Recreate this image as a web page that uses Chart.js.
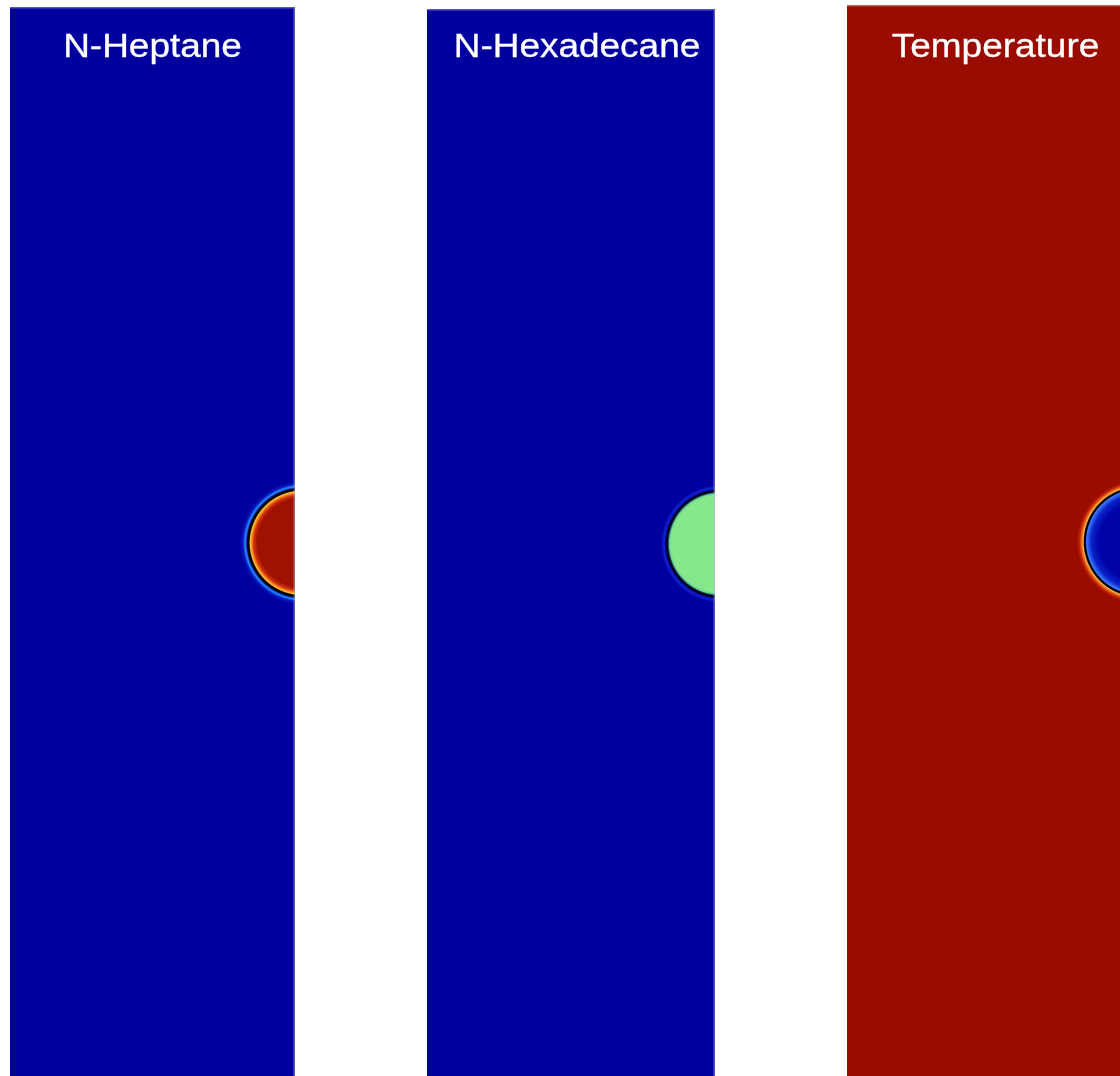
<!DOCTYPE html>
<html>
<head>
<meta charset="utf-8">
<title>Droplet fields</title>
<script src="https://cdn.jsdelivr.net/npm/chart.js@4.4.1/dist/chart.umd.min.js"></script>
<style>
  html, body { margin: 0; padding: 0; background: #ffffff; overflow: hidden; }
  body { width: 1120px; height: 1076px; position: relative; }
  canvas { position: absolute; }
</style>
</head>
<body>
<canvas id="heptane" style="left:10px; top:7px;" width="285" height="1069"></canvas>
<canvas id="hexadecane" style="left:427px; top:9px;" width="288" height="1067"></canvas>
<canvas id="temperature" style="left:847px; top:5px;" width="287" height="1071"></canvas>
<script>
// Field names shown at the top of each panel
const panelTitles = ['N-Heptane', 'N-Hexadecane', 'Temperature'];

// Droplet centre (in droplet radii, axis of symmetry at x = 0) and radius
const dropletCenterX = [0.13, 0.09, 0.09];
const dropletCenterY = [0, 0, 0];
const dropletRadius = [1.02, 1.0, 1.02];

// Computational domain shown in each panel
const domainX = [-5.45, 0];
const domainY = [-10.1, 10.15];

// Colour of the far field and of the droplet core / interface (style only)
const panelStyles = [
  {
    background: '#01009f',
    edge: 'rgba(190,190,240,0.45)',
    labelShift: 0,
    labelBaseline: 49.5,
    // [distance from interface in px, colour]
    stops: [
      [-999, '#9e1000'], [-9, '#a01200'], [-5.5, '#d03408'], [-3.4, '#ff8a1c'],
      [-2.0, '#ffc43a'], [-0.9, '#000000'], [0.9, '#000000'], [2.0, '#1050f0'],
      [3.2, '#2a88ff'], [5.0, '#0620c4'], [8.0, '#01009f']
    ]
  },
  {
    background: '#01009f',
    edge: 'rgba(190,190,240,0.45)',
    labelShift: 6,
    labelBaseline: 47.5,
    stops: [
      [-999, '#86e88a'], [-4.0, '#86e88a'], [-2.3, '#62cc9c'], [-1.1, '#14304a'],
      [-0.3, '#000010'], [0.8, '#000028'], [2.2, '#0a16c0'], [3.6, '#0e1ed2'],
      [6.0, '#01009f']
    ]
  },
  {
    background: '#9a0b00',
    edge: 'rgba(240,200,190,0.45)',
    labelShift: 5,
    labelBaseline: 51.5,
    stops: [
      [-999, '#0000a0'], [-14, '#0004a8'], [-6.5, '#0a22c8'], [-3.2, '#285cf0'],
      [-1.6, '#3c7cff'], [-0.6, '#000000'], [0.6, '#000000'], [1.7, '#f8b040'],
      [3.2, '#f07020'], [5.2, '#c02800'], [8.0, '#9a0b00']
    ]
  }
];

const canvasIds = ['heptane', 'hexadecane', 'temperature'];

// Paints the field: background, droplet with its interface layers, and the label
const fieldPlugin = {
  id: 'dropletField',
  beforeDatasetsDraw(chart, args, opts) {
    const { ctx, chartArea: area, scales } = chart;
    const style = opts.style;
    ctx.save();
    ctx.beginPath();
    ctx.rect(area.left, area.top, area.right - area.left, area.bottom - area.top);
    ctx.clip();

    ctx.fillStyle = style.background;
    ctx.fillRect(area.left, area.top, area.right - area.left, area.bottom - area.top);

    chart.data.datasets[0].data.forEach((pt) => {
      const cx = scales.x.getPixelForValue(pt.x);
      const cy = scales.y.getPixelForValue(pt.y);
      const rx = Math.abs(scales.x.getPixelForValue(pt.x + pt.r) - cx);
      const ry = Math.abs(scales.y.getPixelForValue(pt.y + pt.r) - cy);
      const r = (rx + ry) / 2;
      const outer = r + 8;
      const grad = ctx.createRadialGradient(cx, cy, 0, cx, cy, outer);
      style.stops.forEach(([d, c]) => {
        const t = Math.min(1, Math.max(0, (r + d) / outer));
        grad.addColorStop(t, c);
      });
      ctx.fillStyle = grad;
      ctx.beginPath();
      ctx.arc(cx, cy, outer, 0, Math.PI * 2);
      ctx.fill();
    });

    // soft highlight along the image border
    ctx.strokeStyle = style.edge;
    ctx.lineWidth = 1.5;
    ctx.beginPath();
    ctx.moveTo(area.left, area.top + 0.75);
    ctx.lineTo(area.right, area.top + 0.75);
    ctx.moveTo(area.right - 0.75, area.top);
    ctx.lineTo(area.right - 0.75, area.bottom);
    ctx.stroke();

    // panel label
    const midX = (area.left + area.right) / 2 + style.labelShift;
    ctx.translate(midX, area.top + style.labelBaseline);
    ctx.scale(1.12, 1);
    ctx.fillStyle = '#ffffff';
    ctx.strokeStyle = '#ffffff';
    ctx.lineWidth = 0.3;
    ctx.font = '33px "Liberation Sans", Arial, sans-serif';
    ctx.textAlign = 'center';
    ctx.textBaseline = 'alphabetic';
    ctx.fillText(opts.title, 0, 0);
    ctx.strokeText(opts.title, 0, 0);
    ctx.restore();
  }
};

panelTitles.forEach((title, i) => {
  new Chart(document.getElementById(canvasIds[i]), {
    type: 'scatter',
    data: {
      datasets: [{
        label: title,
        data: [{ x: dropletCenterX[i], y: dropletCenterY[i], r: dropletRadius[i] }],
        pointRadius: 0,
        pointHoverRadius: 0
      }]
    },
    options: {
      responsive: false,
      animation: false,
      devicePixelRatio: 1,
      layout: { padding: 0 },
      events: [],
      scales: {
        x: { type: 'linear', display: false, min: domainX[0], max: domainX[1] },
        y: { type: 'linear', display: false, min: domainY[0], max: domainY[1] }
      },
      plugins: {
        legend: { display: false },
        tooltip: { enabled: false },
        title: { display: false },
        dropletField: { style: panelStyles[i], title: title }
      }
    },
    plugins: [fieldPlugin]
  });
});
</script>
</body>
</html>
